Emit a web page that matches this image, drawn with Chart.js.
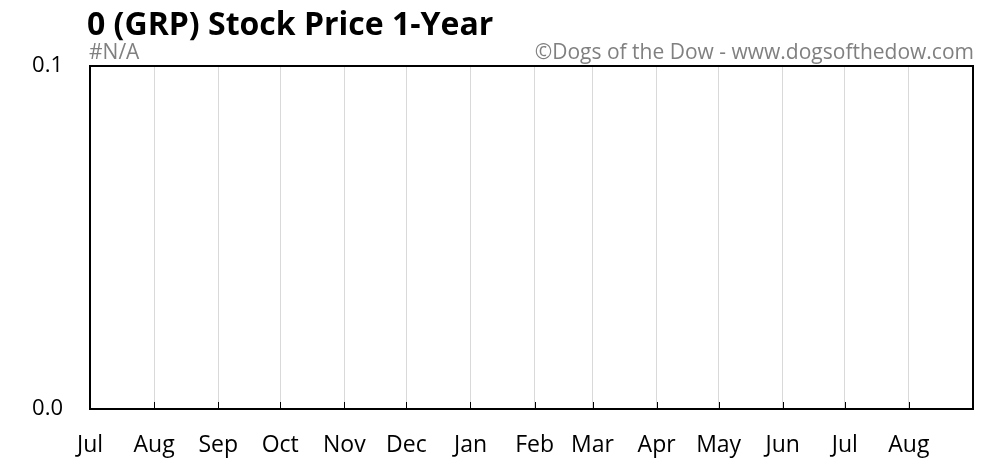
<!DOCTYPE html>
<html>
<head>
<meta charset="utf-8">
<script src="https://cdn.jsdelivr.net/npm/chart.js@4.4.1/dist/chart.umd.min.js"></script>
<style>
  html, body { margin: 0; padding: 0; background: #fff; }
  #wrap { position: relative; width: 990px; height: 465px; }
</style>
</head>
<body>
<div id="wrap"><canvas id="priceChart"></canvas></div>
<script>
// Chart data
const chartTitle = '0 (GRP) Stock Price 1-Year';
const priceNote = '#N/A';
const creditText = '\u00A9Dogs of the Dow - www.dogsofthedow.com';
const monthLabels = ['Jul', 'Aug', 'Sep', 'Oct', 'Nov', 'Dec', 'Jan', 'Feb', 'Mar', 'Apr', 'May', 'Jun', 'Jul', 'Aug'];
const monthDays = [31, 31, 30, 31, 30, 31, 31, 28, 31, 30, 31, 30, 31, 31];
const yTicks = [0.0, 0.1];
const prices = []; // no price data (#N/A)

const FONT = '"Open Sans", "DejaVu Sans", sans-serif';

// day offset where each month starts
const monthStarts = [];
let dayCount = 0;
monthDays.forEach(d => { monthStarts.push(dayCount); dayCount += d; });
const totalDays = dayCount;

// Header texts + frame + inward tick marks
const decorPlugin = {
  id: 'decor',
  afterDraw(chart) {
    const { ctx, chartArea } = chart;
    const xScale = chart.scales.x;
    ctx.save();

    // tick marks pointing up from the x axis
    ctx.strokeStyle = '#000';
    ctx.lineWidth = 1;
    monthStarts.forEach(v => {
      const x = Math.round(xScale.getPixelForValue(v)) + 0.5;
      ctx.beginPath();
      ctx.moveTo(x, chartArea.bottom);
      ctx.lineTo(x, chartArea.bottom - 7);
      ctx.stroke();
    });

    // plot frame
    ctx.lineWidth = 2;
    ctx.strokeRect(chartArea.left, chartArea.top, chartArea.right - chartArea.left, chartArea.bottom - chartArea.top);

    // title
    ctx.fillStyle = '#000';
    ctx.font = 'bold 32px ' + FONT;
    ctx.textBaseline = 'alphabetic';
    ctx.textAlign = 'left';
    ctx.fillText(chartTitle, 87, 35);

    // sub texts
    ctx.fillStyle = '#808080';
    ctx.font = '21px ' + FONT;
    ctx.fillText(priceNote, 89, 59);
    ctx.textAlign = 'right';
    ctx.fillText(creditText, 974, 59);
    ctx.restore();
  }
};

const canvas = document.getElementById('priceChart');
new Chart(canvas, {
  type: 'line',
  data: {
    datasets: [{
      label: 'Price',
      data: prices,
      borderColor: '#4472c4',
      borderWidth: 2,
      pointRadius: 0
    }]
  },
  options: {
    responsive: true,
    maintainAspectRatio: false,
    animation: false,
    layout: { padding: { left: 0, top: 66, right: 17, bottom: 0 } },
    plugins: {
      legend: { display: false },
      tooltip: { enabled: false }
    },
    scales: {
      x: {
        type: 'linear',
        min: 0,
        max: totalDays,
        afterBuildTicks: scale => {
          scale.ticks = monthStarts.map(v => ({ value: v }));
        },
        afterFit: scale => { scale.height = 56; },
        ticks: {
          autoSkip: false,
          maxRotation: 0,
          padding: 23,
          color: '#000',
          font: { family: FONT, size: 23 },
          callback: value => monthLabels[monthStarts.indexOf(value)]
        },
        grid: {
          color: '#d9d9d9',
          lineWidth: 1,
          drawTicks: false
        },
        border: { display: false }
      },
      y: {
        min: 0,
        max: 0.1,
        afterBuildTicks: scale => {
          scale.ticks = yTicks.map(v => ({ value: v }));
        },
        afterFit: scale => { scale.width = 90; },
        ticks: {
          padding: 27,
          color: '#000',
          font: { family: FONT, size: 22 },
          callback: value => value.toFixed(1)
        },
        grid: { display: false, drawTicks: false },
        border: { display: false }
      }
    }
  },
  plugins: [decorPlugin]
});
</script>
</body>
</html>
